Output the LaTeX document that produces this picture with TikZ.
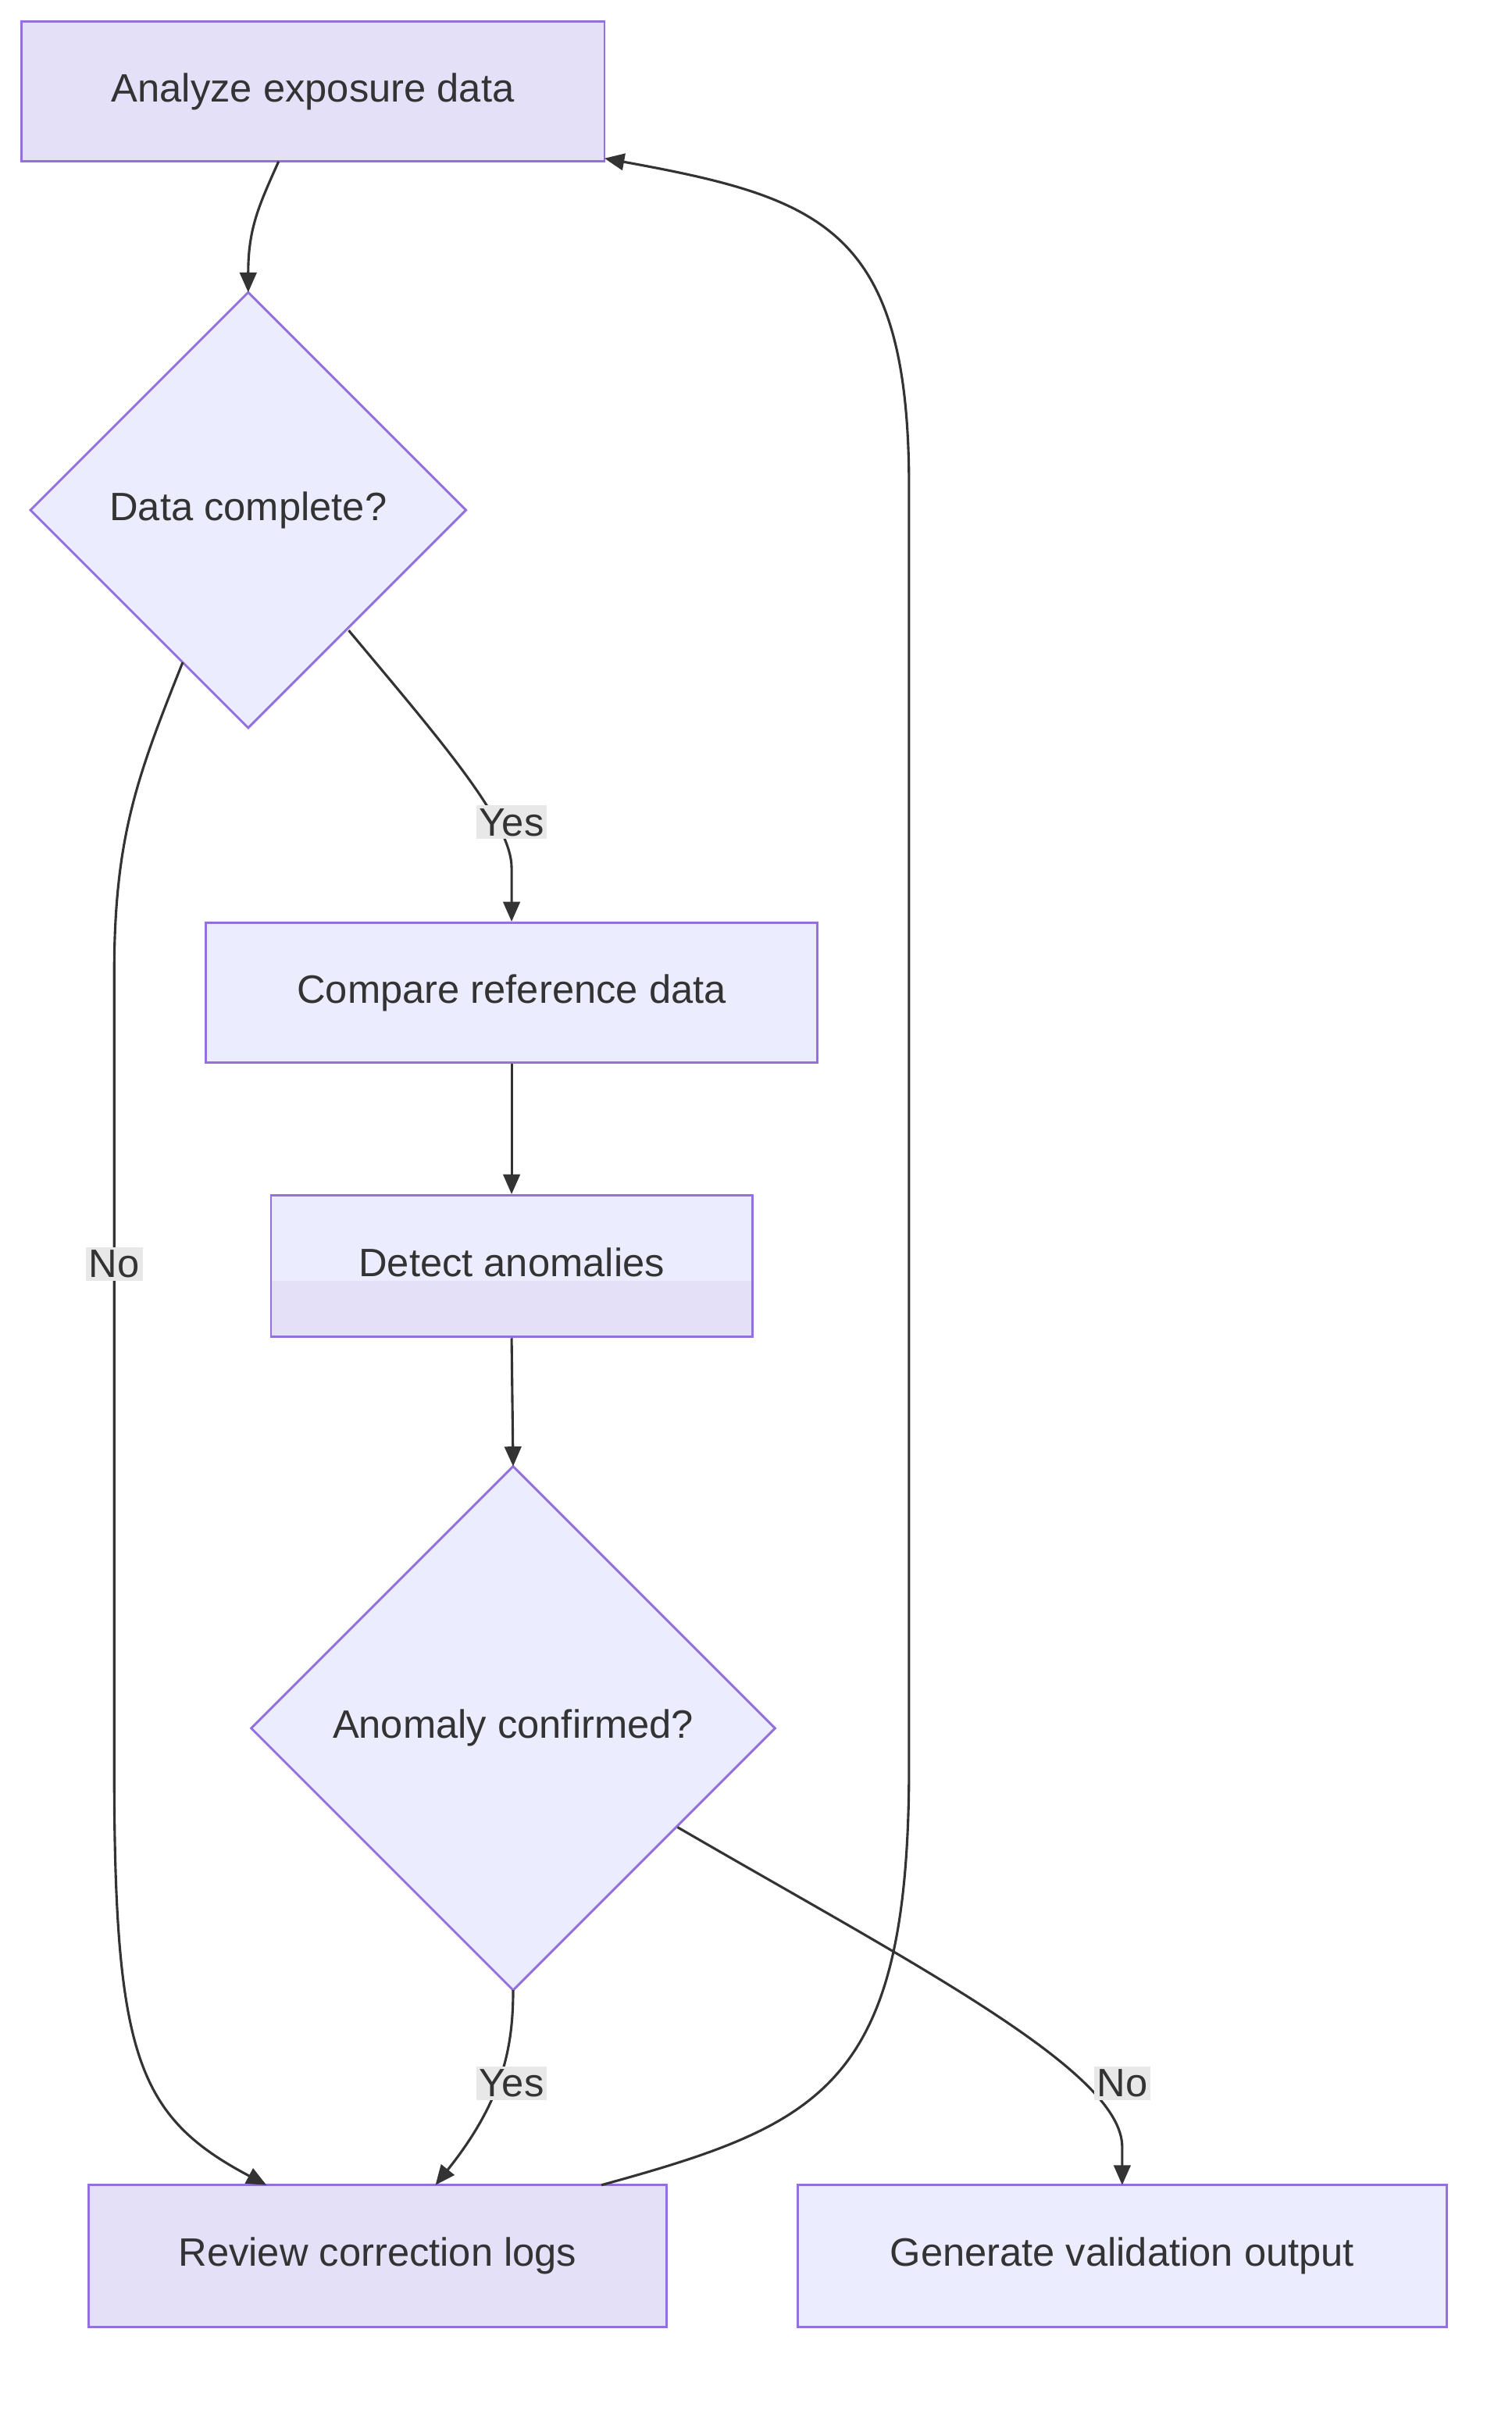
\documentclass[tikz,border=0pt]{standalone}
\usepackage{fontspec}
\setmainfont{Liberation Sans}
\usetikzlibrary{arrows.meta,shapes.geometric}
\definecolor{dark}{HTML}{E3E0F8}
\definecolor{light}{HTML}{ECECFF}
\definecolor{strk}{HTML}{9370DB}
\definecolor{txt}{HTML}{333333}
\definecolor{lbl}{HTML}{E8E8E8}
\begin{document}
\begin{tikzpicture}[x=1pt,y=-1pt,
  every node/.style={font=\fontsize{26}{30}\selectfont,text=txt},
  box/.style={draw=strk,line width=1.5pt,inner sep=0pt},
  edge/.style={draw=txt,line width=1.6pt,-{Triangle[length=13pt,width=11pt]}},
  elbl/.style={fill=lbl,inner sep=2pt}]
\useasboundingbox (0,0) rectangle (993,1588);
\fill[white] (0,0) rectangle (993,1588);
\node[box,fill=dark,minimum width=383pt,minimum height=92pt] (a) at (205.5,60) {Analyze exposure data};
\draw[box,fill=light] (163,192)--(306,335)--(163,478)--(20,335)--cycle;
\node (d1) at (163,335) {Data complete?};
\coordinate (d1t) at (163,192);
\node[box,fill=light,minimum width=402pt,minimum height=92pt] (c) at (336,652) {Compare reference data};
\fill[light] (178,785) rectangle (494,841);
\fill[dark] (178,841) rectangle (494,878);
\node[box,minimum width=316pt,minimum height=93pt] (dt) at (336,831.5) {};
\node at (336,829) {Detect anomalies};
\draw[box,fill=light] (337,963)--(509,1135)--(337,1307)--(165,1135)--cycle;
\node (d2) at (337,1135) {Anomaly confirmed?};
\coordinate (d2t) at (337,963);
\node[box,fill=dark,minimum width=380pt,minimum height=93pt] (r) at (248,1481.5) {Review correction logs};
\node[box,fill=light,minimum width=426pt,minimum height=93pt] (g) at (737,1481.5) {Generate validation output};
% edges
\draw[edge] (183,106) .. controls (170,135) and (163,150) .. (d1t);
\draw[edge] (229,414) .. controls (290,487) and (336,540) .. (336,570) -- (c.north);
\node[elbl] at (336,540) {Yes};
\draw[edge] (120,435) .. controls (90,510) and (75,550) .. (75,640) -- (75,1160) .. controls (75,1350) and (90,1390) .. (175,1435);
\node[elbl] at (75,830) {No};
\draw[edge] (c.south) -- (dt.north);
\draw[edge] (dt.south) -- (d2t);
\draw[edge] (337,1307) .. controls (337,1345) and (330,1380) .. (286,1435);
\node[elbl] at (336,1368) {Yes};
\draw[edge] (445,1200) .. controls (600,1290) and (737,1360) .. (737,1410) -- (737,1435);
\node[elbl] at (737,1368) {No};
\draw[edge] (395,1435) .. controls (540,1395) and (597,1370) .. (597,1160) -- (597,320) .. controls (597,150) and (540,130) .. (397,104);
\end{tikzpicture}
\end{document}
